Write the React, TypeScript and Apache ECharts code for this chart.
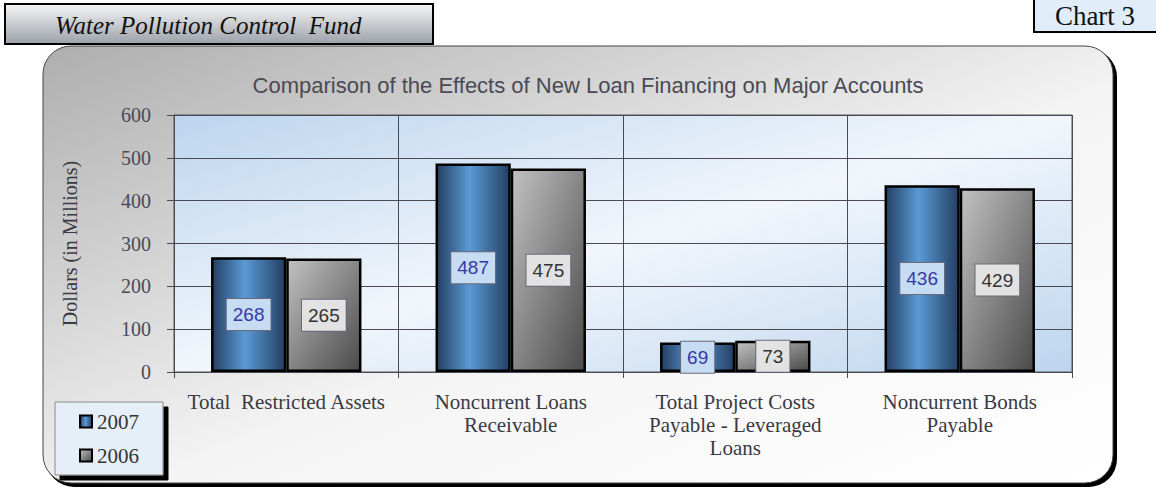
import React, { useEffect, useRef } from "react";
import * as echarts from "echarts";

const categories = [
  "Total  Restricted Assets",
  "Noncurrent Loans\nReceivable",
  "Total Project Costs\nPayable - Leveraged\nLoans",
  "Noncurrent Bonds\nPayable",
];
const values2007 = [268, 487, 69, 436];
const values2006 = [265, 475, 73, 429];
const yTicks = { min: 0, max: 600, interval: 100 };
const titleText = "Comparison of the Effects of New Loan Financing on Major Accounts";
const headerText = "Water Pollution Control  Fund";
const chartNo = "Chart 3";
const yName = "Dollars (in Millions)";

const SERIF = "'Liberation Serif', 'Times New Roman', serif";
const SANS = "'Liberation Sans', Arial, sans-serif";

export default function App() {
  const ref = useRef<HTMLDivElement>(null);
  useEffect(() => {
    if (!ref.current) return;
    const chart = echarts.init(ref.current, null, { renderer: "svg" });
    const blueGrad = new echarts.graphic.LinearGradient(0, 0, 1, 0, [
      { offset: 0, color: "#243f63" },
      { offset: 0.45, color: "#5b9ad6" },
      { offset: 1, color: "#243f63" },
    ]);
    const grayGrad = new echarts.graphic.LinearGradient(0, 0, 1, 1, [
      { offset: 0, color: "#c2c2c2" },
      { offset: 1, color: "#4a4a4a" },
    ]);
    chart.setOption({
      animation: false,
      graphic: [
        {
          type: "rect",
          z: -20,
          shape: { x: 46, y: 49, width: 1071, height: 438, r: 28 },
          style: { fill: "#000" },
        },
        {
          type: "rect",
          z: -19,
          shape: { x: 43, y: 46, width: 1070, height: 437, r: 28 },
          style: {
            fill: new echarts.graphic.LinearGradient(0, 0, 1, 1, [
              { offset: 0, color: "#aeaeae" },
              { offset: 0.55, color: "#f4f4f4" },
              { offset: 1, color: "#ffffff" },
            ]),
            stroke: "#444",
            lineWidth: 1,
          },
        },
        {
          type: "rect",
          z: 50,
          shape: { x: 5, y: 4, width: 428, height: 40 },
          style: {
            fill: new echarts.graphic.LinearGradient(0, 0, 0, 1, [
              { offset: 0, color: "#f6f6f6" },
              { offset: 1, color: "#9ca2aa" },
            ]),
            stroke: "#000",
            lineWidth: 2,
          },
        },
        {
          type: "text",
          z: 51,
          x: 55,
          y: 25,
          style: {
            text: headerText,
            font: `italic 25px ${SERIF}`,
            fill: "#111",
            verticalAlign: "middle",
          },
        },
        {
          type: "rect",
          z: 50,
          shape: { x: 1034, y: -2, width: 126, height: 34 },
          style: { fill: "#e0ecf8", stroke: "#000", lineWidth: 2 },
        },
        {
          type: "text",
          z: 51,
          x: 1095,
          y: 16,
          style: {
            text: chartNo,
            font: `27px ${SERIF}`,
            fill: "#111",
            align: "center",
            verticalAlign: "middle",
          },
        },
      ],
      title: {
        text: titleText,
        left: 583,
        top: 69,
        textAlign: "center",
        textStyle: { fontFamily: SANS, fontSize: 22, fontWeight: "normal", color: "#4a4a55" },
      },
      legend: {
        orient: "vertical",
        left: 55,
        top: 402,
        padding: [9, 24, 9, 24],
        itemGap: 13,
        itemWidth: 12,
        itemHeight: 12,
        backgroundColor: "#e6eef8",
        borderColor: "#8a8a8a",
        borderWidth: 1,
        shadowColor: "#000",
        shadowOffsetX: 5,
        shadowOffsetY: 5,
        shadowBlur: 0,
        itemStyle: { borderColor: "#000", borderWidth: 2 },
        textStyle: { fontFamily: SERIF, fontSize: 21, color: "#333" },
        data: [
          { name: "2007", icon: "rect" },
          { name: "2006", icon: "rect" },
        ],
      },
      grid: {
        left: 174,
        right: 84,
        top: 115,
        bottom: 117,
        show: true,
        borderColor: "#555",
        borderWidth: 1,
        backgroundColor: new echarts.graphic.LinearGradient(0, 0, 1, 1, [
          { offset: 0, color: "#bcd5ee" },
          { offset: 0.5, color: "#f2f6fc" },
          { offset: 1, color: "#bcd5ee" },
        ]),
      },
      xAxis: {
        type: "category",
        data: categories,
        axisLine: { show: true, lineStyle: { color: "#4a4a55", width: 1 } },
        axisTick: { show: true, length: 6, lineStyle: { color: "#4a4a55" } },
        splitLine: { show: true, lineStyle: { color: "#4a4a55", width: 1 } },
        axisLabel: {
          fontFamily: SERIF,
          fontSize: 21,
          color: "#3a3a44",
          lineHeight: 23,
          margin: 18,
          interval: 0,
        },
      },
      yAxis: {
        type: "value",
        min: yTicks.min,
        max: yTicks.max,
        interval: yTicks.interval,
        name: yName,
        nameLocation: "middle",
        nameGap: 94,
        nameTextStyle: { fontFamily: SERIF, fontSize: 20, color: "#3a3a44" },
        axisLine: { show: true, lineStyle: { color: "#4a4a55" } },
        axisTick: { show: true, length: 7, lineStyle: { color: "#4a4a55" } },
        splitLine: { show: true, lineStyle: { color: "#4a4a55", width: 1 } },
        axisLabel: { fontFamily: SERIF, fontSize: 20, color: "#4a4a55", margin: 23 },
      },
      series: [
        {
          name: "2007",
          type: "bar",
          data: values2007,
          barGap: "0%",
          barCategoryGap: "33%",
          itemStyle: { color: blueGrad, borderColor: "#000", borderWidth: 2.5 },
          label: {
            show: true,
            position: "inside",
            fontFamily: SANS,
            fontSize: 19,
            color: "#3838a8",
            backgroundColor: "#c6dcf2",
            borderColor: "#6a6a78",
            borderWidth: 1,
            padding: [7, 6, 5, 6],
          },
        },
        {
          name: "2006",
          type: "bar",
          data: values2006,
          barGap: "0%",
          barCategoryGap: "33%",
          itemStyle: { color: grayGrad, borderColor: "#000", borderWidth: 2.5 },
          label: {
            show: true,
            position: "inside",
            fontFamily: SANS,
            fontSize: 19,
            color: "#333",
            backgroundColor: "#e2e2e2",
            borderColor: "#6a6a78",
            borderWidth: 1,
            padding: [7, 6, 5, 6],
          },
        },
      ],
    });
    return () => chart.dispose();
  }, []);
  return (
    <div
      ref={ref}
      style={{ position: "fixed", left: 0, top: 0, width: 1156, height: 489, background: "#fff" }}
    />
  );
}
